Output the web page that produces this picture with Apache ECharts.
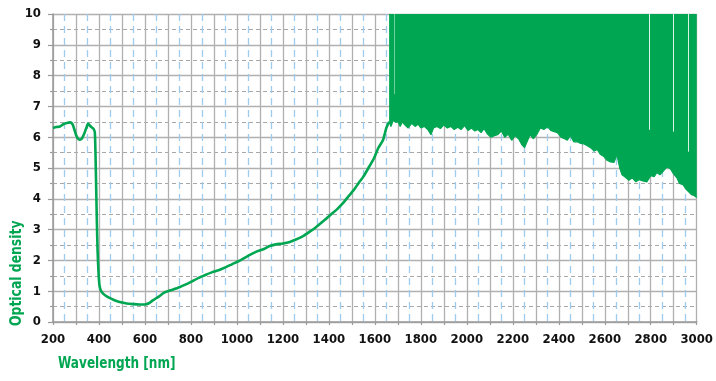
<!DOCTYPE html>
<html>
<head>
<meta charset="utf-8">
<script src="https://cdn.jsdelivr.net/npm/echarts@6/dist/echarts.min.js"></script>
<style>
  html, body { margin: 0; padding: 0; background: #ffffff; }
  #chart { width: 716px; height: 381px; }
</style>
</head>
<body>
<div id="chart"></div>
<script>
// Transmission-range curve: wavelength (nm) vs optical density
const curveNm = [200, 215, 230, 245, 260, 274, 285, 293, 300, 308, 316, 326, 336, 345, 353, 360, 368, 376, 382,
  385, 388, 391, 394, 398, 402, 408, 418, 432, 455, 476, 500, 520, 550, 576, 600, 615, 634, 650, 663, 680,
  700, 720, 750, 778, 800, 836, 860, 893, 920, 952, 980, 1009, 1052, 1090, 1120, 1139, 1170, 1200, 1230,
  1254, 1290, 1320, 1341, 1380, 1410, 1434, 1460, 1485, 1510, 1528, 1550, 1572, 1595, 1615, 1635, 1650, 1662];
const curveOD = [6.30, 6.33, 6.35, 6.42, 6.46, 6.48, 6.42, 6.25, 6.08, 5.96, 5.92, 5.96, 6.12, 6.30, 6.44, 6.38, 6.32, 6.28, 6.15,
  5.40, 4.30, 3.20, 2.30, 1.60, 1.20, 1.02, 0.92, 0.84, 0.75, 0.68, 0.63, 0.60, 0.58, 0.57, 0.57, 0.60, 0.70, 0.78, 0.84, 0.94,
  1.00, 1.05, 1.13, 1.22, 1.30, 1.44, 1.52, 1.62, 1.68, 1.78, 1.88, 1.98, 2.16, 2.30, 2.38, 2.46, 2.52, 2.55, 2.60,
  2.67, 2.80, 2.95, 3.06, 3.30, 3.50, 3.65, 3.85, 4.08, 4.30, 4.50, 4.72, 5.00, 5.30, 5.65, 5.90, 6.30, 6.50];

// Beyond ~1660 nm the signal saturates: lower edge of the noise band (band reaches the top of the scale)
const noiseNm = [1662, 1670, 1680, 1690, 1700, 1710, 1720, 1730, 1745, 1760, 1775, 1788, 1800, 1815, 1830, 1844,
  1855, 1870, 1885, 1900, 1915, 1930, 1945, 1961, 1975, 1990, 2005, 2020, 2035, 2048, 2062, 2075, 2090, 2105,
  2120, 2134, 2150, 2165, 2180, 2195, 2210, 2225, 2240, 2251, 2262, 2275, 2290, 2305, 2320, 2335, 2351, 2365,
  2380, 2394, 2410, 2425, 2437, 2450, 2465, 2480, 2495, 2510, 2524, 2540, 2555, 2567, 2580, 2595, 2610, 2625,
  2640, 2653, 2665, 2675, 2690, 2705, 2720, 2735, 2750, 2765, 2783, 2800, 2815, 2826, 2840, 2855, 2870, 2885,
  2900, 2913, 2925, 2940, 2955, 2965, 2978, 2990, 3000];
const noiseLowOD = [6.50, 6.35, 6.55, 6.48, 6.52, 6.35, 6.50, 6.40, 6.30, 6.45, 6.35, 6.42, 6.30, 6.35, 6.25, 6.08,
  6.30, 6.35, 6.28, 6.40, 6.30, 6.35, 6.25, 6.32, 6.25, 6.38, 6.22, 6.30, 6.20, 6.25, 6.15, 6.28, 6.10, 6.00,
  6.05, 6.08, 6.20, 6.00, 6.10, 5.90, 6.05, 5.95, 5.75, 5.66, 5.85, 6.08, 5.95, 6.10, 6.30, 6.25, 6.34, 6.22,
  6.18, 6.15, 6.00, 5.95, 5.90, 6.05, 5.85, 5.85, 5.80, 5.78, 5.72, 5.65, 5.55, 5.60, 5.45, 5.38, 5.25, 5.20,
  5.18, 5.43, 5.00, 4.78, 4.70, 4.60, 4.68, 4.55, 4.62, 4.58, 4.55, 4.75, 4.72, 4.85, 4.78, 4.90, 5.03, 4.98,
  4.80, 4.69, 4.50, 4.46, 4.30, 4.23, 4.13, 4.10, 4.04];

// Narrow gaps where the noise band does not reach the top
const gapNm = [1684, 2792, 2900, 2965];
const gapLowOD = [7.4, 6.24, 6.18, 5.53];

const xTicks = { min: 200, max: 3000, step: 100, labelStep: 200 };
const yTicks = { min: 0, max: 10, step: 1 };

const GREEN = '#00a651';
const FONT = '"Liberation Sans Narrow", "DejaVu Sans Condensed", "Liberation Sans", sans-serif';

const pair = (xs, ys) => xs.map((x, i) => [x, ys[i]]);

const gapLines = gapNm.map((x, i) => [
  { coord: [x, yTicks.max], lineStyle: { color: i === 0 ? 'rgba(255,255,255,0.45)' : 'rgba(255,255,255,0.85)' } },
  { coord: [x, gapLowOD[i]] }
]);

const chart = echarts.init(document.getElementById('chart'), null, { renderer: 'canvas' });
chart.setOption({
  animation: false,
  backgroundColor: '#ffffff',
  grid: { left: 53, right: 16, top: 14, bottom: 59, containLabel: false },
  xAxis: {
    type: 'value',
    min: xTicks.min, max: xTicks.max, interval: xTicks.step,
    axisLine: { show: true, lineStyle: { color: '#9a9a9a', width: 1.5 } },
    axisTick: { show: true, length: 3, lineStyle: { color: '#9a9a9a', width: 1.2 } },
    axisLabel: {
      margin: 11, color: '#111', fontFamily: FONT, fontWeight: 'bold', fontSize: 13,
      formatter: v => (v % xTicks.labelStep === 0 ? String(v) : '')
    },
    splitLine: { show: true, lineStyle: { color: '#b0b0b0', width: 1.3 } },
    minorTick: { show: false, splitNumber: 2 },
    minorSplitLine: { show: true, lineStyle: { color: '#9fcbec', width: 1.3, type: [7, 5] } }
  },
  yAxis: {
    type: 'value',
    min: yTicks.min, max: yTicks.max, interval: yTicks.step,
    axisLine: { show: true, lineStyle: { color: '#9a9a9a', width: 1.5 } },
    axisTick: { show: true, length: 5, lineStyle: { color: '#9a9a9a', width: 1.2 } },
    minorTick: { show: true, splitNumber: 2, length: 3, lineStyle: { color: '#9a9a9a', width: 1.2 } },
    axisLabel: { margin: 12, color: '#111', fontFamily: FONT, fontWeight: 'bold', fontSize: 13 },
    splitLine: { show: true, lineStyle: { color: '#b0b0b0', width: 1.3 } },
    minorSplitLine: { show: true, lineStyle: { color: '#a8a8a8', width: 1.2, type: [4, 3] } }
  },
  series: [
    {
      name: 'Optical density',
      type: 'line',
      data: pair(curveNm, curveOD),
      showSymbol: false,
      smooth: 0.2,
      lineStyle: { color: GREEN, width: 2.6 },
      z: 3
    },
    {
      name: 'Noise band',
      type: 'line',
      data: pair(noiseNm, noiseLowOD),
      showSymbol: false,
      lineStyle: { color: GREEN, width: 1.2 },
      areaStyle: { color: GREEN, opacity: 1, origin: 'end' },
      z: 3,
      markLine: {
        silent: true,
        symbol: ['none', 'none'],
        label: { show: false },
        lineStyle: { color: 'rgba(255,255,255,0.85)', width: 1, type: 'solid' },
        data: gapLines
      }
    }
  ],
  graphic: [
    {
      type: 'text', x: 58, y: 356, scaleX: 0.84,
      style: { text: 'Wavelength [nm]', fill: GREEN, font: 'bold 16px ' + FONT }
    },
    {
      type: 'text', x: 9, y: 326, rotation: Math.PI / 2, scaleX: 0.86,
      style: { text: 'Optical density', fill: GREEN, font: 'bold 16px ' + FONT, textVerticalAlign: 'top' }
    }
  ]
});
</script>
</body>
</html>
